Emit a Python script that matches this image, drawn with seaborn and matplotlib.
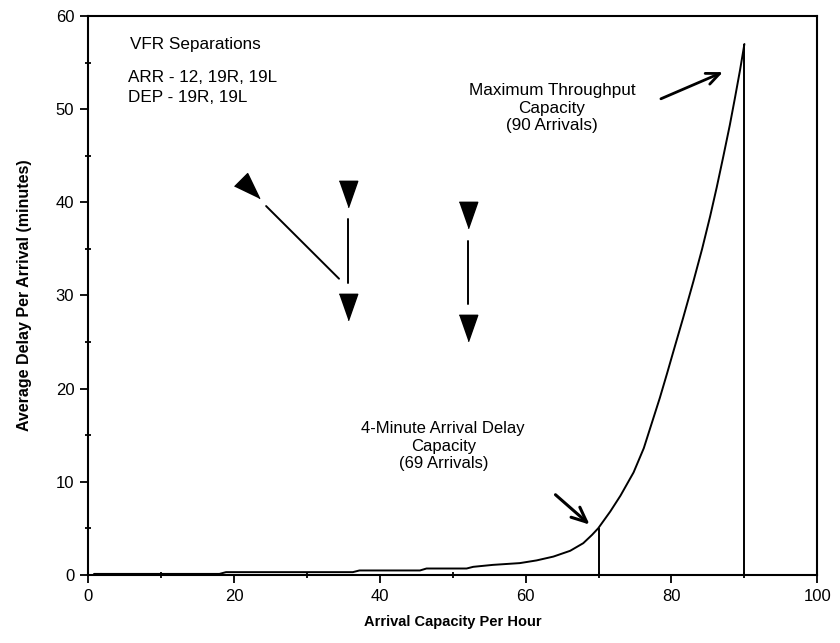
import numpy as np
import pandas as pd
import matplotlib
matplotlib.use("Agg")
import matplotlib.pyplot as plt
from matplotlib.markers import MarkerStyle
import seaborn as sns

# ---- data ----
capacity = [0.8, 18.0, 18.9, 36.3, 37.2, 45.5, 46.4, 51.9, 52.8, 55.5, 59.2,
            61.5, 63.8, 66.1, 67.9, 69.1, 69.95, 71.6, 73.0, 74.8, 76.2, 77.3,
            78.4, 79.4, 80.3, 81.6, 83.0, 84.2, 85.3, 86.2, 87.1, 88.0, 88.7, 89.4, 90.0]
delay = [0.1, 0.1, 0.29, 0.29, 0.47, 0.47, 0.68, 0.68, 0.86, 1.07, 1.26,
         1.55, 1.96, 2.58, 3.4, 4.29, 5.0, 6.8, 8.5, 11.0, 13.6, 16.3,
         19.0, 21.65, 24.1, 27.6, 31.5, 35.0, 38.5, 41.6, 44.9, 48.3, 51.2, 54.2, 57.0]

marker_x_down = [35.6, 35.6, 52.1, 52.1]
marker_y_down = [40.9, 28.8, 38.6, 26.5]
marker_x_diag = [22.2]
marker_y_diag = [41.4]
seg_x0 = [35.6, 52.1, 24.4]
seg_y0 = [38.2, 35.9, 39.6]
seg_x1 = [35.6, 52.1, 34.4]
seg_y1 = [31.3, 29.1, 31.8]

cap_lines_x = [70, 90]
cap_lines_y = [5.0, 57.0]

x_ticks = [0, 20, 40, 60, 80, 100]
y_ticks = [0, 10, 20, 30, 40, 50, 60]

sns.set_theme(style="ticks")
plt.rcParams['font.family'] = ['Liberation Sans', 'DejaVu Sans']
plt.rcParams['text.color'] = 'black'
plt.rcParams['axes.labelcolor'] = 'black'
plt.rcParams['xtick.color'] = 'black'
plt.rcParams['ytick.color'] = 'black'

fig = plt.figure(figsize=(8.4, 6.43), dpi=100)
ax = fig.add_axes([0.105, 0.106, 0.868, 0.869])

df = pd.DataFrame({"cap": capacity, "delay": delay})
sns.lineplot(data=df, x="cap", y="delay", color="black", lw=1.4,
             estimator=None, sort=True, ax=ax)

ax.vlines(cap_lines_x, 0, cap_lines_y, color="black", lw=1.4)

# separation "arrows"
tri = [(-0.35, 0.5), (0.35, 0.5), (0.0, -0.5)]
ax.plot(marker_x_down, marker_y_down, ls="none", marker=tri, markersize=19,
        color="black")
ax.plot(marker_x_diag, marker_y_diag, ls="none",
        marker=MarkerStyle(tri).rotated(deg=45), markersize=19, color="black")
for x0, y0, x1, y1 in zip(seg_x0, seg_y0, seg_x1, seg_y1):
    ax.plot([x0, x1], [y0, y1], color="black", lw=1.4)

# annotations
ax.text(5.7, 56.9, "VFR Separations", fontsize=12.3, va="center", ha="left")
ax.text(5.45, 53.45, "ARR - 12, 19R, 19L", fontsize=12.3, va="center", ha="left")
ax.text(5.45, 51.3, "DEP - 19R, 19L", fontsize=12.3, va="center", ha="left")

ax.text(63.6, 50.1, "Maximum Throughput\nCapacity\n(90 Arrivals)", fontsize=12.3,
        ha="center", va="center", linespacing=1.2)
ax.annotate("", xy=(87.4, 54.1), xytext=(78.2, 51.0),
            arrowprops=dict(arrowstyle="->,head_length=0.8,head_width=0.35",
                            color="black", lw=2))

ax.text(48.7, 13.8, "4-Minute Arrival Delay\nCapacity\n(69 Arrivals)", fontsize=12,
        ha="center", va="center", linespacing=1.2)
ax.annotate("", xy=(69.05, 5.2), xytext=(63.8, 8.8),
            arrowprops=dict(arrowstyle="->,head_length=0.9,head_width=0.4",
                            color="black", lw=2.2))

ax.set_xlim(0, 100)
ax.set_ylim(0, 60)
ax.set_xticks(x_ticks)
ax.set_yticks(y_ticks)
ax.set_xticks(np.arange(0, 101, 10), minor=True)
ax.set_yticks(np.arange(0, 61, 5), minor=True)
ax.tick_params(which="major", direction="out", length=6, width=1.3,
               labelsize=12, pad=4)
ax.tick_params(which="minor", direction="inout", length=5, width=1.3)
for s in ax.spines.values():
    s.set_linewidth(1.5)
    s.set_color("black")

ax.set_xlabel("Arrival Capacity Per Hour", fontsize=10.5, fontweight="bold", va="center")
ax.set_ylabel("Average Delay Per Arrival (minutes)", fontsize=11.5, fontweight="bold",
              va="center")
ax.xaxis.set_label_coords(0.5, -0.084)
ax.yaxis.set_label_coords(-0.087, 0.5)

fig.savefig("out.png", dpi=100)
